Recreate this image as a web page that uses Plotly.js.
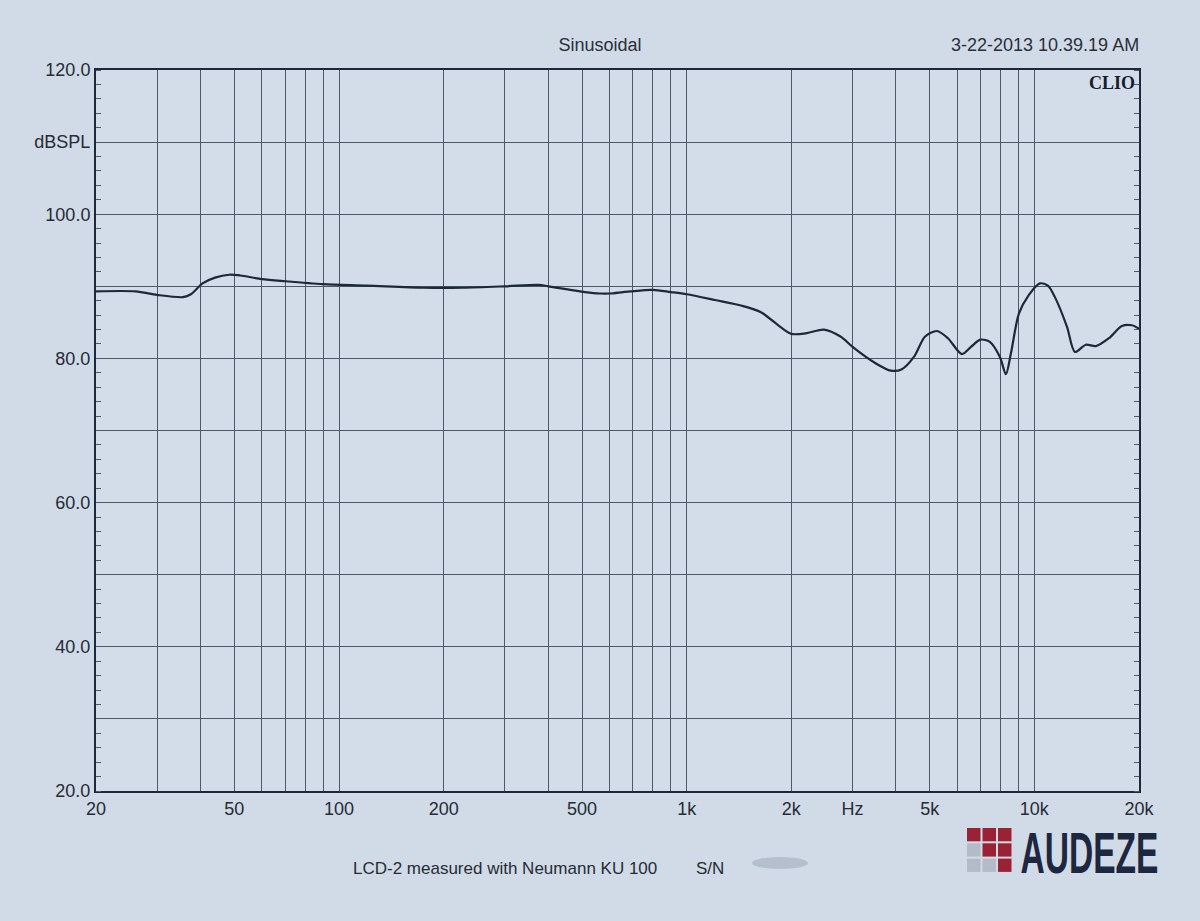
<!DOCTYPE html>
<html>
<head>
<meta charset="utf-8">
<script src="https://cdn.plot.ly/plotly-3.0.1.min.js"></script>
<style>
html,body{margin:0;padding:0;background:#d0dbe7;}
#chart{width:1200px;height:921px;}
</style>
</head>
<body>
<div id="chart"></div>
<script>
// ---- data ----
const freqHz = [20, 26, 30, 35.6, 37.5, 40.5, 44, 48.3, 52, 60, 70, 90, 120, 175, 227, 300, 376, 400, 510, 563, 600, 656, 690, 800, 900, 1000, 1206, 1442, 1636, 1855, 2000, 2217, 2482, 2777, 3000, 3502, 3868, 4159, 4504, 4845, 5246, 5642, 6190, 6573, 7000, 7448, 7962, 8283, 8563, 9028, 9647, 10375, 10940, 11460, 12410, 13085, 14066, 15031, 16388, 17860, 19085, 20000];
const splDb = [89.3, 89.3, 88.8, 88.5, 88.9, 90.4, 91.2, 91.6, 91.5, 91.0, 90.7, 90.3, 90.1, 89.8, 89.8, 90.0, 90.2, 90.0, 89.2, 89.0, 89.0, 89.2, 89.3, 89.5, 89.2, 88.9, 88.1, 87.3, 86.4, 84.4, 83.4, 83.5, 84.0, 83.0, 81.6, 79.3, 78.3, 78.5, 80.2, 83.0, 83.8, 82.8, 80.6, 81.6, 82.6, 82.3, 80.2, 77.8, 80.7, 86.2, 88.8, 90.4, 90.1, 88.5, 84.4, 80.9, 81.9, 81.7, 82.8, 84.5, 84.6, 84.1];

const xGridVals = [20,30,40,50,60,70,80,90,100,200,300,400,500,600,700,800,900,1000,2000,3000,4000,5000,6000,7000,8000,9000,10000,20000];
const xLabelMap = {20:'20',50:'50',100:'100',200:'200',500:'500',1000:'1k',2000:'2k',3000:'Hz',5000:'5k',10000:'10k',20000:'20k'};
const yGridVals = [20,30,40,50,60,70,80,90,100,110,120];
const yLabelMap = {20:'20.0',40:'40.0',60:'60.0',80:'80.0',100:'100.0',110:'dBSPL',120:'120.0'};

const titleText = 'Sinusoidal';
const dateText = '3-22-2013 10.39.19 AM';
const footText = 'LCD-2 measured with Neumann KU 100';
const snText = 'S/N';
const brandText = 'AUDEZE';
const clioText = 'CLIO';
// logo cells: rows top->bottom, 'r' red, 'g' gray
const logoPattern = [['r','r','r'],['g','r','r'],['g','g','r']];

// ---- layout helpers (pixel -> paper) ----
const L = 96, R = 1139, T = 70, B = 791;
const px = x => (x - L) / (R - L);
const py = y => (B - y) / (B - T);

const ink = '#1d2838';
const gridCol = '#4b5969';
const font = 'Liberation Sans, Arial, sans-serif';

const shapes = [];
logoPattern.forEach((row, r) => {
  row.forEach((c, k) => {
    const x0 = 967 + k * 15.5, y0 = 828 + r * 15.3;
    shapes.push({type:'rect', xref:'paper', yref:'paper',
      x0: px(x0), x1: px(x0 + 13.5), y0: py(y0 + 13.3), y1: py(y0),
      fillcolor: c === 'r' ? '#9a2236' : '#b3bcc6', line:{width:0}, layer:'above'});
  });
});
// blurred serial number smudge
shapes.push({type:'circle', xref:'paper', yref:'paper',
  x0: px(752), x1: px(808), y0: py(869), y1: py(857),
  fillcolor:'rgba(100,110,130,0.25)', line:{width:0}});

const annotations = [
  {text: dateText, xref:'paper', yref:'paper', x: px(1141), y: py(45), xanchor:'right', yanchor:'middle', showarrow:false, font:{family:font, size:18, color:'#2a2f38'}},
  {text: '<b>' + clioText + '</b>', xref:'paper', yref:'paper', x: px(1137), y: py(83), xanchor:'right', yanchor:'middle', showarrow:false, font:{family:'Liberation Serif, Times New Roman, serif', size:18, color:'#161c2c'}},
  {text: footText, xref:'paper', yref:'paper', x: px(505), y: py(868), xanchor:'center', yanchor:'middle', showarrow:false, font:{family:font, size:17, color:'#262b35'}},
  {text: snText, xref:'paper', yref:'paper', x: px(694), y: py(868), xanchor:'left', yanchor:'middle', showarrow:false, font:{family:font, size:17, color:'#262b35'}},
  {text: '<b>' + brandText + '</b>', xref:'paper', yref:'paper', x: px(1160), y: py(852), xanchor:'right', yanchor:'middle', showarrow:false, font:{family:font, size:58, color:'#1e2740'}}
];

const trace = {
  x: freqHz, y: splDb, type:'scatter', mode:'lines',
  line:{color: ink, width:2.2, shape:'spline', smoothing:0.8},
  hoverinfo:'x+y'
};

const layout = {
  width:1200, height:921,
  paper_bgcolor:'#d0dbe7', plot_bgcolor:'#d2dde9',
  margin:{l:L, r:1200-R, t:T, b:921-B, pad:0},
  showlegend:false,
  title:{text:titleText, xref:'container', yref:'container', x:0.5, y:1-45/921, xanchor:'center', yanchor:'middle', font:{family:font, size:18, color:'#2a2f38'}},
  xaxis:{
    type:'log', range:[Math.log10(20), Math.log10(20000)],
    tickmode:'array', tickvals:xGridVals, ticktext:xGridVals.map(v => xLabelMap[v] || ''),
    showgrid:true, gridcolor:gridCol, gridwidth:1,
    showline:true, linecolor:ink, linewidth:2, mirror:true,
    ticks:'', zeroline:false,
    tickfont:{family:font, size:18, color:'#262b35'}
  },
  yaxis:{
    range:[20,120],
    tickmode:'array', tickvals:yGridVals, ticktext:yGridVals.map(v => yLabelMap[v] || ''),
    showgrid:true, gridcolor:gridCol, gridwidth:1,
    showline:true, linecolor:ink, linewidth:2, mirror:'allticks',
    ticks:'', zeroline:false,
    minor:{tickmode:'linear', tick0:20, dtick:2, ticks:'inside', ticklen:5, tickcolor:gridCol, tickwidth:1, showgrid:false},
    tickfont:{family:font, size:18, color:'#262b35'}
  },
  shapes: shapes,
  annotations: annotations
};

Plotly.newPlot('chart', [trace], layout, {displayModeBar:false, staticPlot:true}).then(gd => {
  // condense the brand wordmark horizontally (the logo uses a narrow typeface)
  gd.querySelectorAll('.annotation-text').forEach(t => {
    if (t.textContent === brandText) {
      const bb = t.getBBox();
      const s = 138 / bb.width;
      const cx = bb.x + bb.width;
      const prev = t.getAttribute('transform') || '';
      t.setAttribute('transform', prev + ` translate(${cx},0) scale(${s},1) translate(${-cx},0)`);
    }
  });
});
</script>
</body>
</html>
